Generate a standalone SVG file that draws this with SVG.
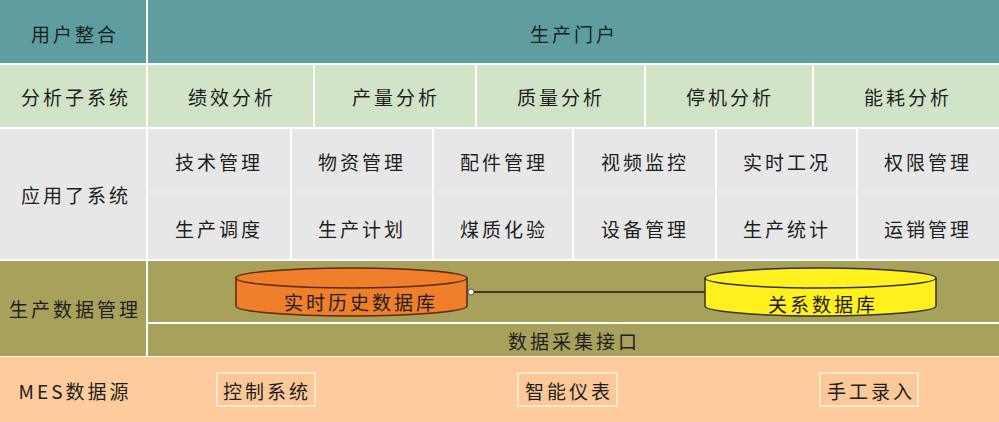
<svg xmlns="http://www.w3.org/2000/svg" width="999" height="422" viewBox="0 0 999 422">
<style>
text{font-family:"Noto Sans CJK SC","Liberation Sans",sans-serif;font-size:19px;fill:#1e1e1e;text-anchor:middle;dominant-baseline:central;letter-spacing:3px}
.teal{fill:#5F9EA0}.green{fill:#D1E4C8}.grey{fill:#E7E7E7}.olive{fill:#A8A15B}.peach{fill:#FDCB9C}
.box{fill:#FBC898;stroke:#FFE6CC;stroke-width:2}
.sep{stroke:#FFFFFF;stroke-width:2}
.faint{stroke:#EEEEEE;stroke-width:1.5}
</style>
<rect x="0" y="0" width="999" height="422" fill="#FFFFFF"/>
<!-- row 1 -->
<g id="row-user">
<rect class="teal" x="0" y="0" width="146" height="63"/>
<text x="75" y="33">用户整合</text>
</g>
<g id="portal">
<rect class="teal" x="148" y="0" width="851" height="63"/>
<text x="574" y="33">生产门户</text>
</g>
<!-- row 2 -->
<g id="row-analysis">
<rect class="green" x="0" y="65" width="146" height="62"/>
<text x="76" y="96">分析子系统</text>
</g>
<g id="a1"><rect class="green" x="148" y="65" width="165" height="62"/><text x="232" y="96">绩效分析</text></g>
<g id="a2"><rect class="green" x="315" y="65" width="160" height="62"/><text x="396" y="96">产量分析</text></g>
<g id="a3"><rect class="green" x="477" y="65" width="167" height="62"/><text x="561" y="96">质量分析</text></g>
<g id="a4"><rect class="green" x="646" y="65" width="166" height="62"/><text x="730" y="96">停机分析</text></g>
<g id="a5"><rect class="green" x="814" y="65" width="185" height="62"/><text x="908" y="96">能耗分析</text></g>
<!-- row 3 -->
<g id="row-app">
<rect class="grey" x="0" y="129" width="146" height="130"/>
<text x="76" y="194">应用了系统</text>
</g>
<g id="app-cells">
<rect class="grey" x="148" y="129" width="142" height="130"/>
<rect class="grey" x="292" y="129" width="140" height="130"/>
<rect class="grey" x="434" y="129" width="138" height="130"/>
<rect class="grey" x="574" y="129" width="141" height="130"/>
<rect class="grey" x="717" y="129" width="139" height="130"/>
<rect class="grey" x="858" y="129" width="141" height="130"/>
<line class="faint" x1="148" y1="192" x2="999" y2="192"/>
</g>
<g id="m1"><text x="219" y="161">技术管理</text></g>
<g id="m2"><text x="362" y="161">物资管理</text></g>
<g id="m3"><text x="504" y="161">配件管理</text></g>
<g id="m4"><text x="645" y="161">视频监控</text></g>
<g id="m5"><text x="787" y="161">实时工况</text></g>
<g id="m6"><text x="928" y="161">权限管理</text></g>
<g id="m7"><text x="219" y="228">生产调度</text></g>
<g id="m8"><text x="362" y="228">生产计划</text></g>
<g id="m9"><text x="504" y="228">煤质化验</text></g>
<g id="m10"><text x="645" y="228">设备管理</text></g>
<g id="m11"><text x="787" y="228">生产统计</text></g>
<g id="m12"><text x="928" y="228">运销管理</text></g>
<!-- row 4 -->
<g id="row-data">
<rect class="olive" x="0" y="261" width="146" height="95"/>
<text x="75" y="308">生产数据管理</text>
</g>
<g id="data-area">
<rect class="olive" x="148" y="261" width="851" height="61"/>
</g>
<g id="interface">
<rect class="olive" x="148" y="324" width="851" height="32"/>
<text x="574" y="340">数据采集接口</text>
</g>
<!-- row 5 -->
<g id="row-source">
<rect class="peach" x="0" y="357" width="999" height="65"/>
<text x="75" y="390" font-family="Liberation Sans, Noto Sans CJK SC, sans-serif">MES数据源</text>
</g>
<g id="s1"><rect class="box" x="217" y="373" width="98" height="33"/><text x="267" y="390">控制系统</text></g>
<g id="s2"><rect class="box" x="518" y="373" width="99" height="33"/><text x="569" y="390">智能仪表</text></g>
<g id="s3"><rect class="box" x="820" y="373" width="98" height="33"/><text x="871" y="390">手工录入</text></g>
<!-- connectors -->
<g id="connectors">
<line x1="471" y1="292" x2="706" y2="292" stroke="#1a1a1a" stroke-width="1.5"/>
<circle cx="471" cy="292" r="3" fill="#FFFFFF" stroke="#333" stroke-width="0.8"/>
</g>
<!-- databases -->
<g id="db-history">
<path d="M236,278 L236,306 A115.5,10 0 0 0 467,306 L467,278 Z" fill="#F07F2B" stroke="#5A2A0A" stroke-width="1.5"/>
<ellipse cx="351.5" cy="278" rx="115.5" ry="10" fill="#F07F2B" stroke="#5A2A0A" stroke-width="1.5"/>
<text x="361" y="301">实时历史数据库</text>
</g>
<g id="db-relational">
<path d="M705,278 L705,306 A115.5,10 0 0 0 936,306 L936,278 Z" fill="#FFF01E" stroke="#333" stroke-width="1.5"/>
<ellipse cx="820.5" cy="278" rx="115.5" ry="10" fill="#FFF01E" stroke="#333" stroke-width="1.5"/>
<text x="823" y="303">关系数据库</text>
</g>
</svg>
